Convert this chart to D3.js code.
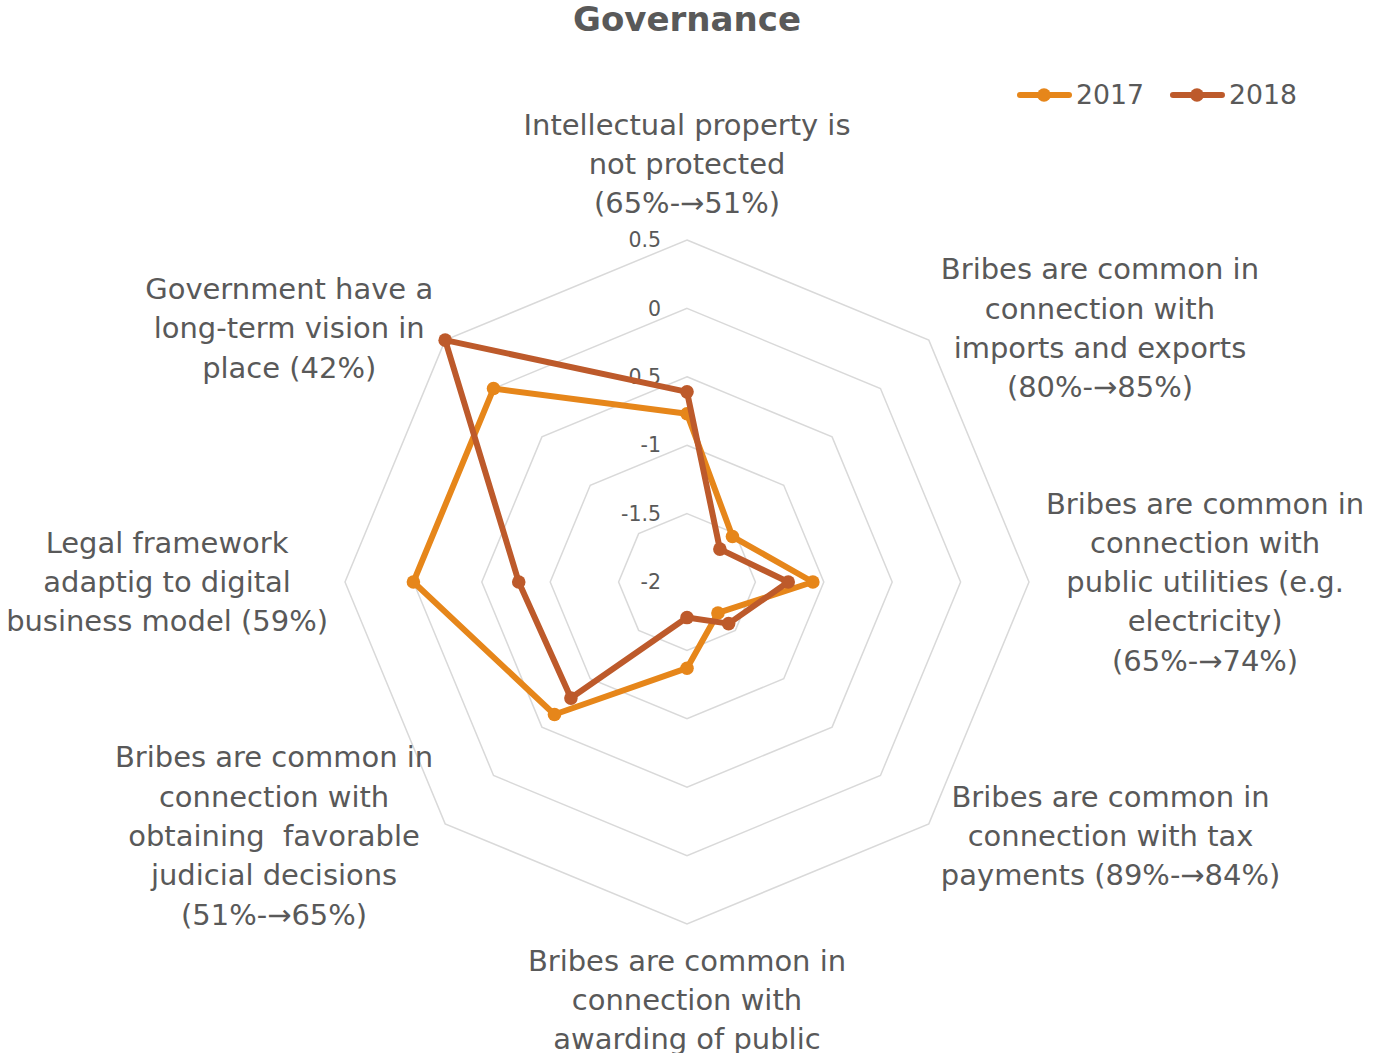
<!DOCTYPE html>
<html>
<head>
<meta charset="utf-8">
<title>Governance</title>
<script src="https://cdn.jsdelivr.net/npm/d3@7"></script>
<style>
  html, body { margin: 0; padding: 0; background: #ffffff; }
  svg { display: block; }
  text { white-space: pre; }
</style>
</head>
<body>
<svg id="chart" width="1384" height="1053"></svg>
<script>
// ---- data ----
const chartTitle = "Governance";
const categories = [
  ["Intellectual property is", "not protected", "(65%-→51%)"],
  ["Bribes are common in", "connection with", "imports and exports", "(80%-→85%)"],
  ["Bribes are common in", "connection with", "public utilities (e.g.", "electricity)", "(65%-→74%)"],
  ["Bribes are common in", "connection with tax", "payments (89%-→84%)"],
  ["Bribes are common in", "connection with", "awarding of public"],
  ["Bribes are common in", "connection with", "obtaining  favorable", "judicial decisions", "(51%-→65%)"],
  ["Legal framework", "adaptig to digital", "business model (59%)"],
  ["Government have a", "long-term vision in", "place (42%)"]
];
const seriesNames = ["2017", "2018"];
const values2017 = [-0.77, -1.53, -1.08, -1.68, -1.37, -0.63, 0.0, 0.0];
const values2018 = [-0.61, -1.66, -1.26, -1.57, -1.74, -0.80, -0.77, 0.5];
const tickValues = [-2, -1.5, -1, -0.5, 0, 0.5];

// ---- layout & style ----
const cx = 687, cy = 582, R = 342;
const FONT = "'DejaVu Sans', 'Noto Sans', sans-serif";
const TEXT = "#595959";
const GRID = "#d9d9d9";
const colors = ["#e6861a", "#bd5a2b"];
const series = [values2017, values2018];

const svg = d3.select("#chart");
const n = categories.length;
const step = 2 * Math.PI / n;

const r = d3.scaleLinear()
  .domain([tickValues[0], tickValues[tickValues.length - 1]])
  .range([0, R]);

// font size at which a sample string spans a given width
function fitSize(sample, target, weight) {
  const t = svg.append("text").attr("font-family", FONT).attr("font-size", 100)
    .attr("font-weight", weight || "normal").text(sample);
  const w = t.node().getComputedTextLength();
  t.remove();
  return 100 * target / w;
}
const labelSize = Math.min(
  fitSize("Bribes are common in", 334),
  fitSize("business model (59%)", 322)
);
const tickSize = fitSize("-1.5", 40);
const titleSize = fitSize(chartTitle, 228, "bold");
const legendSize = fitSize("2017", 68);
const lineH = 39.3;

const root = svg.append("g");

// title
root.append("text")
  .attr("x", cx).attr("y", 19).attr("dy", "0.35em")
  .attr("text-anchor", "middle")
  .attr("font-family", FONT).attr("font-weight", "bold")
  .attr("font-size", titleSize).attr("fill", TEXT)
  .text(chartTitle);

// closed radial path through one value per category
const ringLine = d3.lineRadial()
  .angle((d, i) => i * step)
  .radius(d => r(d))
  .curve(d3.curveLinearClosed);

const plot = root.append("g").attr("transform", `translate(${cx},${cy})`);

// octagonal gridlines
plot.append("g").selectAll("path")
  .data(tickValues.filter(t => r(t) > 0))
  .join("path")
  .attr("d", t => ringLine(d3.range(n).map(() => t)))
  .attr("fill", "none")
  .attr("stroke", GRID)
  .attr("stroke-width", 1.5);

// value labels beside the top spoke
plot.append("g").selectAll("text")
  .data(tickValues)
  .join("text")
  .attr("x", -26)
  .attr("y", t => -r(t))
  .attr("dy", "0.35em")
  .attr("text-anchor", "end")
  .attr("font-family", FONT)
  .attr("font-size", tickSize)
  .attr("fill", TEXT)
  .text(t => String(t));

// series lines with markers
series.forEach((vals, k) => {
  const g = plot.append("g");
  g.append("path")
    .attr("d", ringLine(vals))
    .attr("fill", "none")
    .attr("stroke", colors[k])
    .attr("stroke-width", 6)
    .attr("stroke-linejoin", "round");
  g.selectAll("circle")
    .data(vals)
    .join("circle")
    .attr("cx", (d, i) => r(d) * Math.sin(i * step))
    .attr("cy", (d, i) => -r(d) * Math.cos(i * step))
    .attr("r", 6.8)
    .attr("fill", colors[k]);
});

// category labels around the outer ring
const labelGap = 17;
categories.forEach((lines, i) => {
  const a = i * step;
  const s = Math.sin(a), c = Math.cos(a);
  const px = cx + (R + labelGap) * s;
  const py = cy - (R + labelGap) * c;
  const g = root.append("g");
  const texts = lines.map(line => g.append("text")
    .attr("text-anchor", "middle")
    .attr("font-family", FONT)
    .attr("font-size", labelSize)
    .attr("fill", TEXT)
    .text(line));
  const w = d3.max(texts, t => t.node().getComputedTextLength());
  let bx = px;
  if (s > 0.1) bx = px + w / 2;
  else if (s < -0.1) bx = px - w / 2;
  const h = lines.length * lineH;
  let top;
  if (c > 0.9) top = py - h;
  else if (c < -0.9) top = py;
  else top = py - h / 2;
  texts.forEach((t, j) => t.attr("x", bx).attr("y", top + lineH * (j + 0.5)).attr("dy", "0.35em"));
});

// legend
const legend = root.append("g");
let lx = 1017;
const ly = 95;
seriesNames.forEach((name, k) => {
  legend.append("line")
    .attr("x1", lx + 3).attr("x2", lx + 52)
    .attr("y1", ly).attr("y2", ly)
    .attr("stroke", colors[k]).attr("stroke-width", 6)
    .attr("stroke-linecap", "round");
  legend.append("circle")
    .attr("cx", lx + 27).attr("cy", ly).attr("r", 6.8)
    .attr("fill", colors[k]);
  const t = legend.append("text")
    .attr("x", lx + 59).attr("y", ly).attr("dy", "0.35em")
    .attr("font-family", FONT).attr("font-size", legendSize)
    .attr("fill", TEXT).text(name);
  lx += 59 + t.node().getComputedTextLength() + 26;
});
</script>
</body>
</html>
